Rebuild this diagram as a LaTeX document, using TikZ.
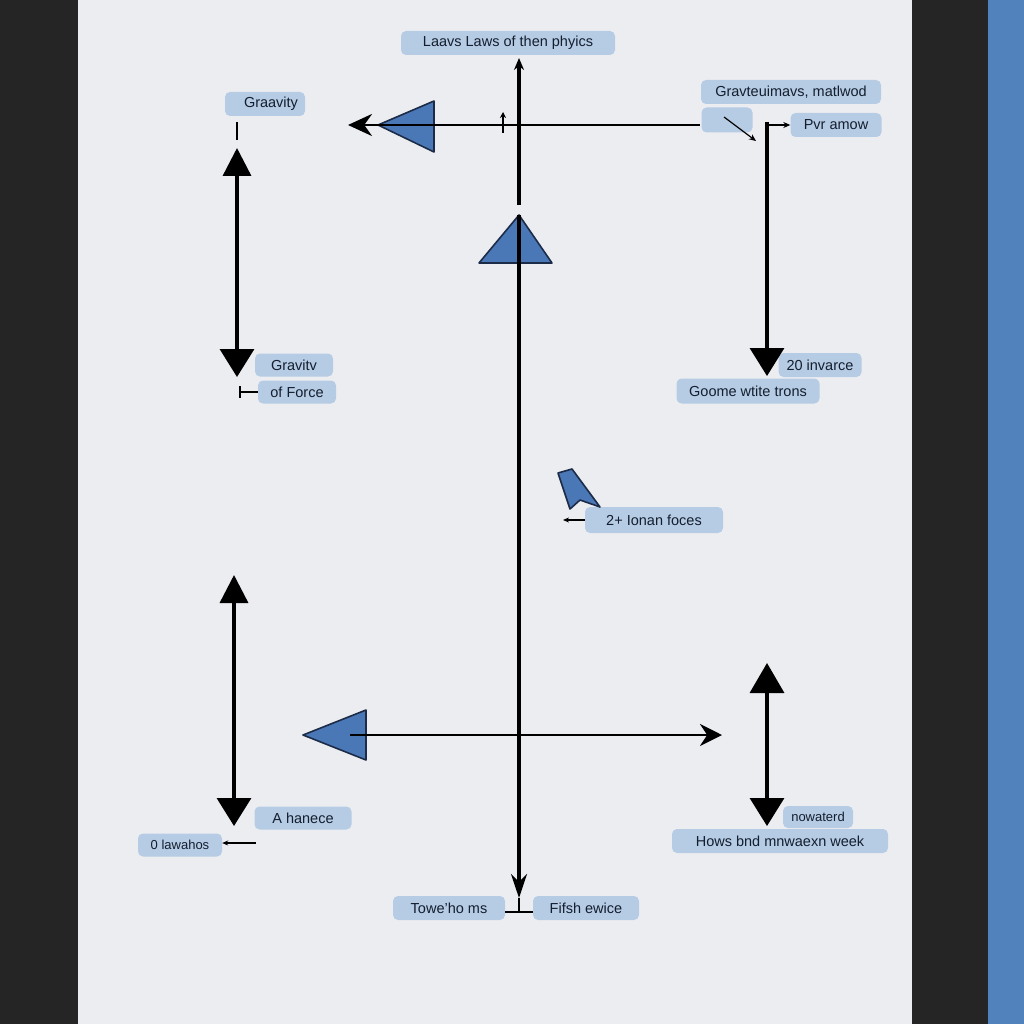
\documentclass[tikz,border=0pt]{standalone}
\usepackage{fontspec}
\setmainfont{Liberation Sans}
\usetikzlibrary{arrows.meta}
\definecolor{dark}{HTML}{252525}
\definecolor{page}{HTML}{ECEDF1}
\definecolor{bar}{HTML}{5282BC}
\definecolor{boxblue}{HTML}{B5CCE4}
\definecolor{ink}{HTML}{141E2E}
\definecolor{trifill}{HTML}{4A78B6}
\definecolor{triedge}{HTML}{1C2C48}
\tikzset{
  bighead/.tip={Triangle[width=34pt,length=28pt]},
  upbig/.tip={Triangle[width=28pt,length=28pt]},
  upwide/.tip={Triangle[width=34pt,length=30pt]}}
\begin{document}
\begin{tikzpicture}[x=1pt,y=-1pt,
  lbl/.style={fill=boxblue, rounded corners=5pt, text=ink, inner sep=0pt,
    font=\fontsize{14.5}{15}\selectfont, minimum height=24pt},
  axis/.style={line width=3.4pt, draw=black},
  thin/.style={line width=1.2pt, draw=black},
  tri/.style={fill=trifill, draw=triedge, line width=1.6pt, line join=round}]
\useasboundingbox (0,0) rectangle (1024,1024);
% background
\fill[dark] (0,0) rectangle (1024,1024);
\fill[page] (78,0) rectangle (912,1024);
\fill[bar] (988,0) rectangle (1024,1024);

% labels
\node[lbl, minimum width=214pt] (title) at (508,43) {Laavs Laws of then phyics};
\node[lbl, minimum width=80pt] (grav1) at (265,104) {\hspace*{12pt}Graavity};
\node[lbl, minimum width=180pt] (gravte) at (791,92) {Gravteuimavs, matlwod};
\node[lbl, minimum width=51pt, minimum height=25pt] (blank) at (727,120) {};
\node[lbl, minimum width=91pt] (pvr) at (836,125) {Pvr amow};
\node[lbl, minimum width=78pt, minimum height=23pt] (grav2) at (294,365) {Gravitv};
\node[lbl, minimum width=78pt, minimum height=23pt] (force) at (297,392) {of Force};
\node[lbl, minimum width=83pt] (inv) at (820,365) {20 invarce};
\node[lbl, minimum width=143pt, minimum height=25pt] (goome) at (748,391) {Goome wtite trons};
\node[lbl, minimum width=138pt, minimum height=26pt] (ionan) at (654,520) {2+ Ionan foces};
\node[lbl, minimum width=97pt, minimum height=23pt] (hanece) at (303,818) {A hanece};
\node[lbl, minimum width=84pt, minimum height=23pt, font=\fontsize{13}{13}\selectfont] (lawah) at (180,845) {0 lawahos};
\node[lbl, minimum width=70pt, minimum height=22pt, font=\fontsize{13}{13}\selectfont] (nowat) at (818,817) {nowaterd};
\node[lbl, minimum width=216pt] (hows) at (780,841) {Hows bnd mnwaexn week};
\node[lbl, minimum width=112pt] (towe) at (449,908) {Towe'ho ms};
\node[lbl, minimum width=106pt] (fifsh) at (586,908) {Fifsh ewice};

% coordinates
\coordinate (ctop) at (519,58);
\coordinate (cmid) at (519,205);
\coordinate (capex) at (519,215);
\coordinate (cbot) at (519,898);
\coordinate (cfoot) at (519,912);
\coordinate (hL) at (348,125);
\coordinate (hR) at (700,125);
\coordinate (tickA) at (503,133);
\coordinate (tickB) at (503,112);
\coordinate (l1t) at (237,148);
\coordinate (l1b) at (237,377);
\coordinate (l1s) at (237,122);
\coordinate (r1t) at (767,122);
\coordinate (r1b) at (767,376);
\coordinate (l2t) at (234,575);
\coordinate (l2b) at (234,826);
\coordinate (r2t) at (767,663);
\coordinate (r2b) at (767,826);
\coordinate (bL) at (350,735);
\coordinate (bR) at (722,735);
\coordinate (diagA) at (724,117);
\coordinate (diagB) at (756,141);
\coordinate (oneA) at (240,392);
\coordinate (ionA) at (563,520);
\coordinate (lawA) at (256,843);

% triangles
\draw[tri] (378,125) -- (434,101) -- (434,152) -- cycle;
\draw[tri] (519,215) -- (552,263) -- (479,263) -- cycle;
\draw[tri] (303,735) -- (366,710) -- (366,760) -- cycle;
\draw[tri] (558,473) -- (572,469) -- (600,507) -- (580,500) -- (570,509) -- cycle;

% central axis
\draw[axis, -{Stealth[width=10pt,length=12pt]}] (cmid) -- (ctop);
\draw[axis, -{Stealth[width=16pt,length=24pt]}] (capex) -- (cbot);
\draw[thin] (cbot) -- (cfoot);
\draw[thin] (towe.east |- cfoot) -- (fifsh.west |- cfoot);

% top horizontal
\draw[axis, line width=2.8pt, -{Stealth[width=22pt,length=24pt]}] (hR) -- (hL);
\draw[thin, -{Stealth[width=6pt,length=6pt]}] (tickA) -- (tickB);

% left top double arrow
\draw[thin] (l1s) -- ++(0,18);
\draw[axis, {upbig}-{bighead}] (l1t) -- (l1b);
% right top arrow
\draw[axis, -{bighead}] (r1t) -- (r1b);
\draw[thin, -{Stealth[width=6pt,length=7pt]}] (r1t |- pvr) -- (pvr.west);
\draw[thin, -{Stealth[width=6pt,length=7pt]}] (diagA) -- (diagB);
% left bottom
\draw[axis, {upbig}-{bighead}] (l2t) -- (l2b);
% right bottom
\draw[axis, {upwide}-{bighead}] (r2t) -- (r2b);
% bottom horizontal
\draw[axis, line width=2.8pt, -{Stealth[width=22pt,length=22pt]}] (bL) -- (bR);

% small pointers
\draw[thin] (oneA) -- (force.west);
\draw[thin] (oneA) ++(0,-6) -- ++(0,12);
\draw[thin, -{Stealth[width=5pt,length=6pt]}] (ionan.west) -- (ionA);
\draw[thin, -{Stealth[width=5pt,length=6pt]}] (lawA) -- (lawah.east |- lawA);
\end{tikzpicture}
\end{document}
